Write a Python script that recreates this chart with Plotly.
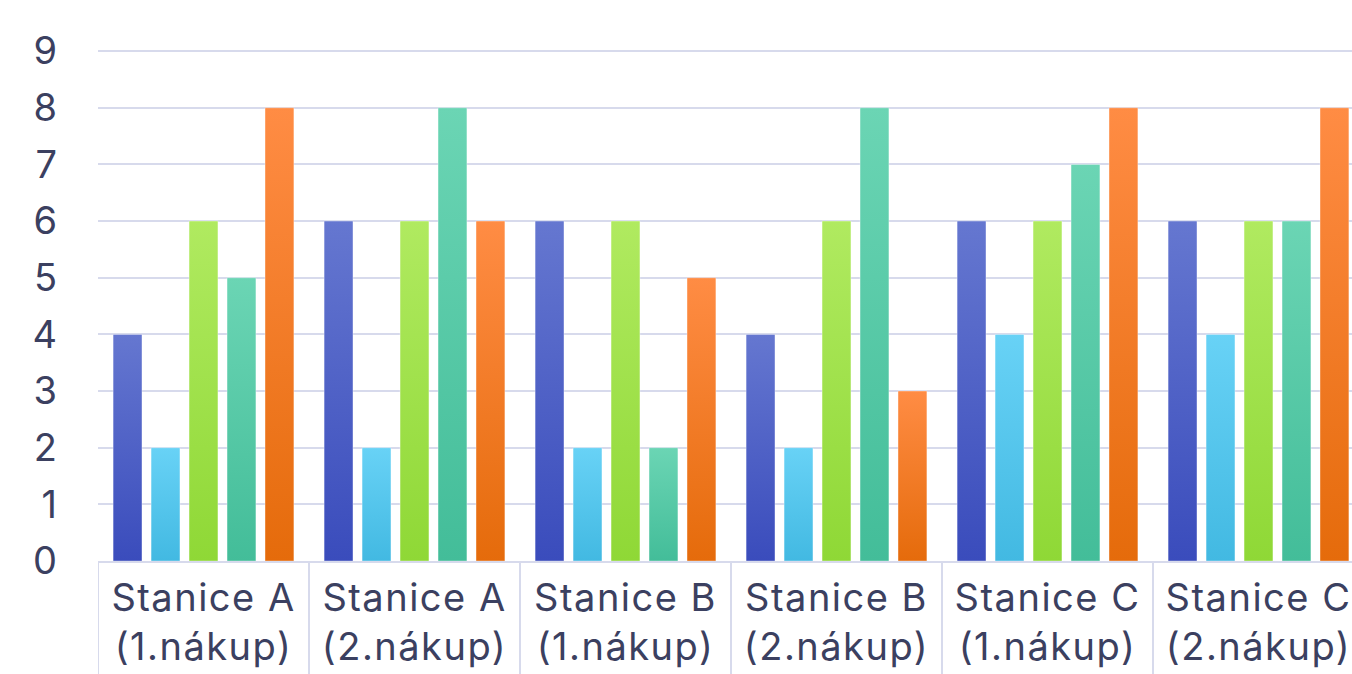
import plotly.graph_objects as go

# Category labels (two lines per station/purchase)
categories = [
    "Stanice A<br>(1.nákup)",
    "Stanice A<br>(2.nákup)",
    "Stanice B<br>(1.nákup)",
    "Stanice B<br>(2.nákup)",
    "Stanice C<br>(1.nákup)",
    "Stanice C<br>(2.nákup)",
]

series_names = ["Série 1", "Série 2", "Série 3", "Série 4", "Série 5"]

series_1 = [4, 6, 6, 4, 6, 6]
series_2 = [2, 2, 2, 2, 4, 4]
series_3 = [6, 6, 6, 6, 6, 6]
series_4 = [5, 8, 2, 8, 7, 6]
series_5 = [8, 6, 5, 3, 8, 8]

y_ticks = [0, 1, 2, 3, 4, 5, 6, 7, 8, 9]

# Vertical gradient per series: (top colour, bottom colour)
gradients = [
    ("#6577d0", "#3a4cbc"),
    ("#68d2f6", "#42b9e2"),
    ("#b0ea60", "#8fd836"),
    ("#6bd5b4", "#43bd99"),
    ("#ff8c44", "#e56b0b"),
]
mid_colours = ["#4f62c6", "#55c6ec", "#a0e14b", "#57c9a6", "#f37b27"]

TEXT = "#3b4060"
LINE = "#d7daec"
FONT = "Inter"

all_series = [series_1, series_2, series_3, series_4, series_5]

fig = go.Figure()
for name, vals, col in zip(series_names, all_series, mid_colours):
    fig.add_trace(go.Bar(
        x=categories, y=vals, name=name,
        marker=dict(color=col, line=dict(width=1, color="rgba(255,255,255,0.35)")),
        showlegend=False,
    ))

n = len(categories)
# separators between the category labels, running below the axis
for k in range(n + 1):
    fig.add_shape(type="line", xref="x", yref="paper",
                  x0=k - 0.5, x1=k - 0.5, y0=0, y1=-0.25,
                  line=dict(color=LINE, width=2), layer="below")

fig.update_layout(
    width=1352, height=674,
    margin=dict(l=98, r=0, t=50, b=113),
    paper_bgcolor="white", plot_bgcolor="white",
    barmode="group", bargap=0.1, bargroupgap=0.24,
    font=dict(family=FONT, color=TEXT, size=38),
    xaxis=dict(
        type="category", range=[-0.5, -0.5 + 1254 / 211],
        showgrid=False, showline=True, linecolor=LINE, linewidth=2,
        ticks="", ticklabelstandoff=2,
        tickfont=dict(size=38, color=TEXT, family=FONT),
        fixedrange=True,
    ),
    yaxis=dict(
        range=[0, 9.02], tickvals=y_ticks, ticktext=[str(v) for v in y_ticks],
        showgrid=True, gridcolor=LINE, gridwidth=2,
        zeroline=False, showline=False, ticks="",
        ticklabelstandoff=40,
        tickfont=dict(size=38, color=TEXT, family=FONT),
        fixedrange=True,
    ),
)

grad_js = ",".join('["%s","%s"]' % g for g in gradients)
post = """
var gd = document.getElementById('{plot_id}');
var GRADS = [%s];
function applyBarGradients() {
  var NS = 'http://www.w3.org/2000/svg';
  var svg = gd.querySelector('svg.main-svg');
  var defs = svg.querySelector('defs');
  GRADS.forEach(function (g, i) {
    var id = 'bargrad' + i;
    if (document.getElementById(id)) return;
    var lg = document.createElementNS(NS, 'linearGradient');
    lg.setAttribute('id', id);
    lg.setAttribute('x1', '0'); lg.setAttribute('y1', '0');
    lg.setAttribute('x2', '0'); lg.setAttribute('y2', '1');
    [[0, g[0]], [1, g[1]]].forEach(function (s) {
      var st = document.createElementNS(NS, 'stop');
      st.setAttribute('offset', s[0]);
      st.setAttribute('stop-color', s[1]);
      lg.appendChild(st);
    });
    defs.appendChild(lg);
  });
  gd.querySelectorAll('.barlayer .trace').forEach(function (t, i) {
    t.querySelectorAll('path').forEach(function (p) {
      p.style.fill = 'url(#bargrad' + i + ')';
    });
  });
  // slightly wider tracking on the category labels
  gd.querySelectorAll('.xtick text').forEach(function (t) {
    t.style.letterSpacing = '1.5px';
  });
}
applyBarGradients();
gd.on('plotly_afterplot', applyBarGradients);
""" % grad_js

fig.write_html("out.html", post_script=post, config={"displayModeBar": False})
